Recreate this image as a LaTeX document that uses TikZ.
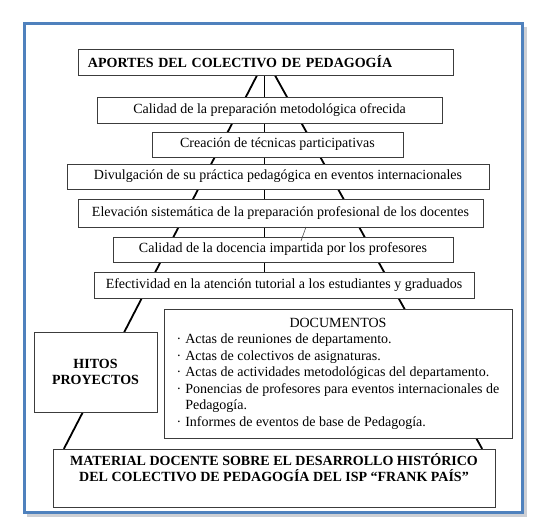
\documentclass[tikz,border=0pt]{standalone}
\usepackage{fontspec}
\setmainfont{Liberation Serif}
\usetikzlibrary{calc,backgrounds}
\definecolor{FrameBlue}{RGB}{79,129,189}
\definecolor{FrameShade}{RGB}{205,207,212}
\definecolor{BoxLine}{RGB}{60,60,60}
\tikzset{
  mapbox/.style={draw=BoxLine,line width=0.8pt,fill=white,inner sep=0pt,
    align=center,font=\fontsize{14}{16.5}\selectfont},
  headbox/.style={mapbox,font=\fontsize{14}{16.5}\selectfont\bfseries},
  link/.style={line width=1.8pt,line cap=round}
}
\newcommand{\aportebox}[6]{%
  \node[mapbox,minimum width=#4pt,minimum height=#5pt] (#1) at (#2,#3) {#6};}

\begin{document}
\begin{tikzpicture}[x=1pt,y=-1pt]
  \useasboundingbox (0,0) rectangle (542,521);
  \draw[FrameShade,line width=2.5pt] (525.5,27) -- (525.5,515.5) -- (27,515.5);
  \draw[FrameBlue,line width=3pt] (24,23.5) rectangle (522.5,512.5);
  \node[headbox,align=left,text width=355pt,inner xsep=10pt,minimum height=26pt]
    (aportes) at (265.5,62) {APORTES DEL COLECTIVO DE PEDAGOGÍA};
  \aportebox{calidad}{269.5}{110}{345}{26}{Calidad de la preparación metodológica ofrecida}
  \aportebox{creacion}{277.5}{144.5}{251}{25}{Creación de técnicas participativas}
  \aportebox{divulgacion}{278}{176.5}{422}{25}{Divulgación de su práctica pedagógica en eventos internacionales}
  \aportebox{elevacion}{280.5}{213}{405}{28}{Elevación sistemática de la preparación profesional de los docentes}
  \aportebox{docencia}{283}{249.5}{340}{25}{Calidad de la docencia impartida por los profesores}
  \aportebox{efectividad}{284}{285}{380}{26}{Efectividad en la atención tutorial a los estudiantes y graduados}
  \node[mapbox,align=left,minimum width=348pt,minimum height=129pt] (documentos) at (338,373.5) {%
    \begin{tabular}{@{}l@{\hspace{4pt}}l@{}}
      \multicolumn{2}{c}{DOCUMENTOS}\\
      · & Actas de reuniones de departamento.\\
      · & Actas de colectivos de asignaturas.\\
      · & Actas de actividades metodológicas del departamento.\\
      · & Ponencias de profesores para eventos internacionales de\\
        & Pedagogía.\\
      · & Informes de eventos de base de Pedagogía.
    \end{tabular}};
  \node[headbox,minimum width=123pt,minimum height=80pt] (hitos) at (95.5,372) {HITOS\\PROYECTOS};
  \node[headbox,minimum width=442pt,minimum height=58pt] (material) at (274,478)
    {MATERIAL DOCENTE SOBRE EL DESARROLLO HISTÓRICO\\DEL COLECTIVO DE PEDAGOGÍA DEL ISP “FRANK PAÍS”\\\strut};
  \begin{scope}[on background layer]
    \draw[link] ($(aportes.south)+(-8.5,0)$) -- ($(material.north)+(-210,0)$);
    \draw[link] ($(aportes.south)+(-1,0)$) -- ($(efectividad.north)+(-19.5,0)$);
    \draw[link] ($(aportes.south)+(9.5,0)$) -- ($(material.north)+(208,0)$);
  \end{scope}
  \coordinate (marktop) at (306,227);
  \coordinate (markbot) at (301,241);
  \draw[black!70,line width=0.6pt] (marktop) -- (markbot);
\end{tikzpicture}
\end{document}
